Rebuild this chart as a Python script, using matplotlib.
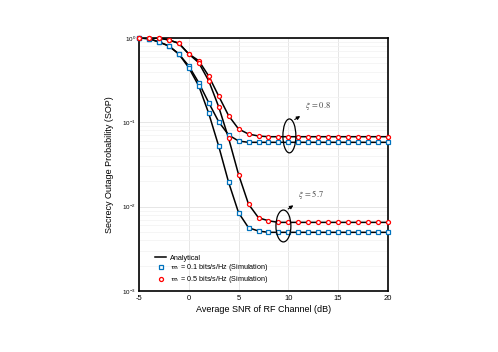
import matplotlib
matplotlib.use("Agg")
import matplotlib.pyplot as plt
from matplotlib.patches import Ellipse

plt.rcParams['font.family'] = ['Liberation Sans', 'DejaVu Sans']
plt.rcParams['mathtext.fontset'] = 'stix'

snr = [-5, -4, -3, -2, -1, 0, 1, 2, 3, 4, 5, 6, 7, 8, 9, 10, 11, 12, 13, 14, 15, 16, 17, 18, 19, 20]

# xi = 0.8, rate 0.5 (red)
red_08 = [1.0, 1.0, 1.0, 0.947, 0.865, 0.646, 0.538, 0.354, 0.205, 0.1198, 0.0833, 0.0726, 0.0688,
          0.0675, 0.0675, 0.0675, 0.0675, 0.0675, 0.0675, 0.0675, 0.0675, 0.0675, 0.0675, 0.0675, 0.0675, 0.0675]
# xi = 5.7, rate 0.5 (red)
red_57 = [1.0, 1.0, 1.0, 0.947, 0.865, 0.646, 0.509, 0.311, 0.153, 0.0646, 0.0240, 0.0107, 0.00738,
          0.00680, 0.00651, 0.00651, 0.00651, 0.00651, 0.00651, 0.00651, 0.00651, 0.00651, 0.00651, 0.00651, 0.00651, 0.00651]
# xi = 0.8, rate 0.1 (blue)
blue_08 = [1.0, 0.981, 0.897, 0.804, 0.646, 0.466, 0.295, 0.171, 0.1017, 0.0707, 0.0600, 0.0579, 0.0579,
           0.0579, 0.0579, 0.0579, 0.0579, 0.0579, 0.0579, 0.0579, 0.0579, 0.0579, 0.0579, 0.0579, 0.0579, 0.0579]
# xi = 5.7, rate 0.1 (blue)
blue_57 = [1.0, 0.981, 0.897, 0.804, 0.646, 0.444, 0.270, 0.128, 0.0523, 0.0194, 0.00846, 0.00562, 0.00514,
           0.00496, 0.00496, 0.00496, 0.00496, 0.00496, 0.00496, 0.00496, 0.00496, 0.00496, 0.00496, 0.00496, 0.00496, 0.00496]

x_ticks = [-5, 0, 5, 10, 15, 20]

fig = plt.figure(figsize=(4.98, 3.52), dpi=100)
ax = fig.add_axes([0.2791, 0.1733, 0.5, 0.7188])

ax.set_yscale('log')
ax.set_xlim(-5, 20)
ax.set_ylim(1e-3, 1)

ax.grid(True, which='major', color='#e6e6e6', linewidth=0.7)
ax.grid(True, which='minor', axis='y', color='#f2f2f2', linewidth=0.5)
ax.set_axisbelow(True)

for series in (red_08, red_57, blue_08, blue_57):
    ax.plot(snr, series, color='black', linewidth=1.1, zorder=2)

ms = 2.6
for series in (blue_08, blue_57):
    ax.plot(snr, series, linestyle='none', marker='s', markersize=ms,
            markerfacecolor='white', markeredgecolor='#0072BD', markeredgewidth=0.9,
            clip_on=False, zorder=3)
for series in (red_08, red_57):
    ax.plot(snr, series, linestyle='none', marker='o', markersize=ms + 0.3,
            markerfacecolor='white', markeredgecolor='#FF0000', markeredgewidth=0.9,
            clip_on=False, zorder=3)

# legend proxies
h1, = ax.plot([], [], color='black', linewidth=1.1)
h2, = ax.plot([], [], linestyle='none', marker='s', markersize=ms,
              markerfacecolor='white', markeredgecolor='#0072BD', markeredgewidth=0.9)
h3, = ax.plot([], [], linestyle='none', marker='o', markersize=ms + 0.3,
              markerfacecolor='white', markeredgecolor='#FF0000', markeredgewidth=0.9)
leg = ax.legend([h1, h2, h3],
                ['Analytical',
                 r'$\varpi_s$ = 0.1 bits/s/Hz (Simulation)',
                 r'$\varpi_s$ = 0.5 bits/s/Hz (Simulation)'],
                loc='lower left', bbox_to_anchor=(0.062, 0.02), frameon=False,
                fontsize=5.2, handlelength=1.5, handletextpad=0.5, labelspacing=0.1,
                borderpad=0.1, borderaxespad=0.0)

# annotations
e1 = Ellipse((0.604, 0.613), 0.052, 0.134, transform=ax.transAxes,
             fill=False, edgecolor='black', linewidth=0.9, zorder=4)
e2 = Ellipse((0.580, 0.257), 0.060, 0.126, transform=ax.transAxes,
             fill=False, edgecolor='black', linewidth=0.9, zorder=4)
ax.add_patch(e1)
ax.add_patch(e2)
ax.annotate('', xy=(0.657, 0.697), xytext=(0.616, 0.672), xycoords='axes fraction',
            textcoords='axes fraction',
            arrowprops=dict(arrowstyle='-|>', color='black', lw=0.8, mutation_scale=5))
ax.annotate('', xy=(0.629, 0.345), xytext=(0.590, 0.318), xycoords='axes fraction',
            textcoords='axes fraction',
            arrowprops=dict(arrowstyle='-|>', color='black', lw=0.8, mutation_scale=5))
ax.text(0.717, 0.731, r'$\xi\,=\,0.8$', transform=ax.transAxes, ha='center', va='center',
        fontsize=6, color='#444444')
ax.text(0.689, 0.383, r'$\xi\,=\,5.7$', transform=ax.transAxes, ha='center', va='center',
        fontsize=6, color='#444444')

ax.set_xticks(x_ticks)
ax.set_xticklabels([str(t) for t in x_ticks])
ax.tick_params(axis='x', labelsize=5.5, length=0, pad=3)
ax.tick_params(axis='y', labelsize=4.5, length=0, pad=2, which='both')

for sp in ax.spines.values():
    sp.set_linewidth(1.2)
    sp.set_color('black')

ax.set_xlabel('Average SNR of RF Channel (dB)', fontsize=6.5, labelpad=2)
ax.set_ylabel('Secrecy Outage Probability (SOP)', fontsize=6.5, labelpad=6)

fig.savefig('out.png', dpi=100)
